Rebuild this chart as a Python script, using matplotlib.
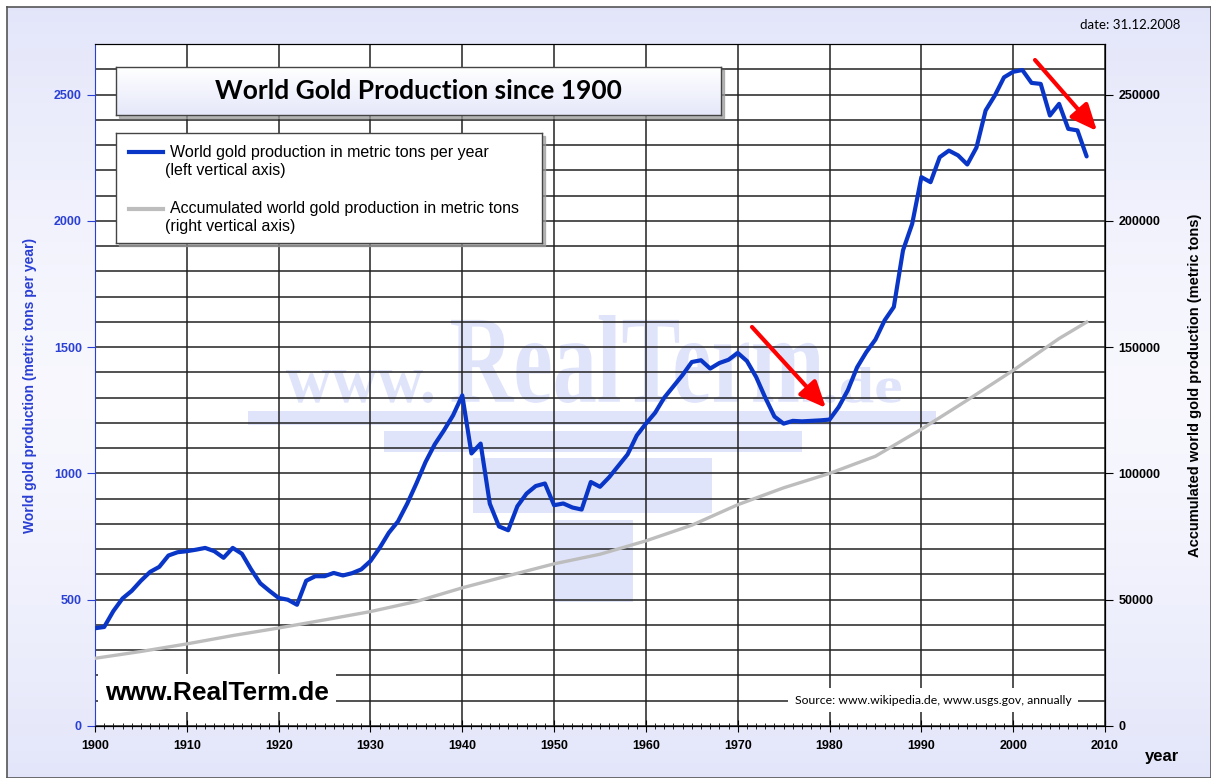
import numpy as np
import matplotlib
matplotlib.use("Agg")
import matplotlib.pyplot as plt
from matplotlib.ticker import MultipleLocator
from matplotlib.textpath import TextPath
from matplotlib.font_manager import FontProperties
from matplotlib.patches import PathPatch, Rectangle
from matplotlib.transforms import Affine2D
import matplotlib.patheffects as pe

# data
years = np.arange(1900, 2009)
production = [
    387, 392, 455, 505, 535, 575, 610, 630, 675, 688,            # 1900s
    692, 698, 705, 692, 666, 705, 682, 620, 565, 535,            # 1910s
    507, 500, 480, 575, 593, 593, 606, 596, 605, 620,            # 1920s
    653, 705, 765, 810, 880, 960, 1045, 1115, 1170, 1230,        # 1930s
    1309, 1079, 1118, 880, 790, 775, 870, 920, 950, 960,         # 1940s
    874, 881, 865, 857, 966, 947, 985, 1030, 1075, 1150,         # 1950s
    1197, 1240, 1300, 1345, 1390, 1441, 1448, 1415, 1437, 1450,  # 1960s
    1477, 1445, 1382, 1300, 1225, 1197, 1208, 1206, 1208, 1210,  # 1970s
    1213, 1263, 1330, 1420, 1480, 1530, 1606, 1659, 1883, 1988,  # 1980s
    2173, 2153, 2252, 2278, 2259, 2223, 2290, 2437, 2496, 2568,  # 1990s
    2590, 2597, 2546, 2542, 2417, 2463, 2364, 2358, 2255,        # 2000s
]
acc_years = [1900, 1905, 1910, 1915, 1920, 1925, 1930, 1935, 1940, 1945, 1950, 1955,
             1960, 1965, 1970, 1975, 1980, 1985, 1990, 1995, 2000, 2005, 2008]
acc_tons = [26800, 29500, 32500, 35800, 38800, 42000, 45300, 49300, 54700, 59500, 64200, 68000,
            73300, 79500, 87600, 94300, 100000, 106800, 117500, 129000, 140800, 153400, 159900]

W, H = 1211, 778
BLUE = '#0a36c8'
LBLUE = '#2a3fd4'
WM = '#e0e4fa'


def fx(x):
    return x / W


def fy(y):
    return 1 - y / H


# pixel -> data (left axis)
def yr(x):
    return 1900 + (x - 95) * 110 / 1010


def val(y):
    return (726 - y) * 2700 / 682


fig = plt.figure(figsize=(W / 100, H / 100), dpi=100)
fig.patch.set_facecolor('white')

# background gradient with border
bg = fig.add_axes([fx(7), 0, 1 - fx(7), 1 - 7 / H], zorder=-10)
g = np.abs(np.linspace(-1, 1, 200)) ** 1.5
c_top = np.array([0.89, 0.90, 0.98])
c_mid = np.array([0.97, 0.97, 0.995])
grad = c_mid[None, :] * (1 - g[:, None]) + c_top[None, :] * g[:, None]
bg.imshow(grad[:, None, :], aspect='auto', extent=[0, 1, 0, 1])
bg.set_xticks([])
bg.set_yticks([])
for s in bg.spines.values():
    s.set_color('#555555')
    s.set_linewidth(1.2)

ax = fig.add_axes([fx(95), 1 - 726 / H, 1010 / W, 682 / H])
ax.set_facecolor('white')
ax.set_xlim(1900, 2010)
ax.set_ylim(0, 2700)
ax.set_axisbelow(True)

ax.xaxis.set_major_locator(MultipleLocator(10))
ax.xaxis.set_minor_locator(MultipleLocator(1))
ax.yaxis.set_major_locator(MultipleLocator(500))
ax.yaxis.set_minor_locator(MultipleLocator(100))
ax.grid(axis='x', which='major', color='#222222', lw=1.1)
ax.grid(axis='y', which='both', color='#222222', lw=1.1)
ax.tick_params(axis='y', which='minor', length=0)
ax.tick_params(axis='y', which='major', length=6, color=LBLUE, labelcolor=LBLUE,
               labelsize=9, direction='out')
ax.tick_params(axis='x', which='major', length=8, direction='inout', labelsize=9, pad=6)
ax.tick_params(axis='x', which='minor', length=5, direction='inout')
for lab in ax.get_xticklabels() + ax.get_yticklabels():
    lab.set_fontweight('bold')
    lab.set_family('Liberation Sans')
ax.spines['left'].set_color(LBLUE)
ax.spines['top'].set_color('#222222')

ax.set_ylabel('World gold production (metric tons per year)', color=LBLUE,
              fontsize=10, fontweight='bold', family='Liberation Sans', labelpad=12)

# watermark
for (x0, y0, x1, y1) in [(248, 411, 936, 425), (384, 431, 802, 452),
                         (473, 458, 712, 513), (555, 520, 633, 602)]:
    ax.add_patch(Rectangle((yr(x0), val(y1)), yr(x1) - yr(x0), val(y0) - val(y1),
                           color=WM, lw=0, zorder=0.2))
wm_prop = FontProperties(family='Liberation Serif', weight='bold')
for s, (x0, y0, x1, y1) in [('www.', (286, 370, 433, 403)),
                            ('RealTerm', (451, 315, 823, 403)),
                            ('.de', (825, 367, 901, 403))]:
    path = TextPath((0, 0), s, size=1, prop=wm_prop)
    ext = path.get_extents()
    bx0, bx1, by0, by1 = yr(x0), yr(x1), val(y1), val(y0)
    tr = (Affine2D().translate(-ext.x0, -ext.y0)
          .scale((bx1 - bx0) / ext.width, (by1 - by0) / ext.height)
          .translate(bx0, by0))
    ax.add_patch(PathPatch(tr.transform_path(path), color=WM, lw=0, zorder=0.2))

ax.plot(years, production, color=BLUE, lw=3, zorder=4, solid_capstyle='round',
        solid_joinstyle='round')

# red arrows
for (sx, sy, ex, ey) in [(752, 327, 826, 408), (1035, 60, 1097, 131)]:
    ax.annotate('', xy=(yr(ex), val(ey)), xytext=(yr(sx), val(sy)),
                arrowprops=dict(arrowstyle='-|>,head_length=0.8,head_width=0.35',
                                color='#ff0000', lw=3, mutation_scale=20, shrinkA=0, shrinkB=0),
                zorder=6)

ax2 = ax.twinx()
ax2.set_ylim(0, 270000)
ax2.yaxis.set_major_locator(MultipleLocator(50000))
ax2.tick_params(axis='y', length=6, labelsize=9, direction='out')
for lab in ax2.get_yticklabels():
    lab.set_fontweight('bold')
    lab.set_family('Liberation Sans')
ax2.spines['left'].set_visible(False)
ax2.plot(acc_years, acc_tons, color='#bdbdbd', lw=2.4, zorder=3, solid_joinstyle='round')
ax2.set_ylabel('Accumulated world gold production (metric tons)', fontsize=10.5,
               fontweight='bold', family='Liberation Sans', labelpad=20)

# text boxes on the plot
fig.text(fx(105), fy(693), 'www.RealTerm.de', fontsize=19, fontweight='bold',
         family='Liberation Sans', va='center', ha='left', zorder=10,
         bbox=dict(facecolor='white', edgecolor='none', pad=5))
fig.text(fx(933), fy(700), 'Source: www.wikipedia.de, www.usgs.gov, annually',
         fontsize=8.8, family='Lato', va='center', ha='center', zorder=10,
         bbox=dict(facecolor='white', edgecolor='none', pad=5))
fig.text(fx(1180), fy(25), 'date: 31.12.2008', fontsize=9.5, family='Lato',
         va='center', ha='right')
fig.text(fx(1145), fy(757), 'year', fontsize=12, fontweight='bold',
         family='Liberation Sans', va='center', ha='left')

# title box
tb = fig.add_axes([fx(116), fy(115), 605 / W, 48 / H], zorder=20)
tg = np.linspace(0, 1, 50)
tcol = np.array([1.0, 1.0, 1.0])[None, :] * (1 - tg[:, None]) + np.array([0.9, 0.91, 0.98])[None, :] * tg[:, None]
tb.imshow(tcol[:, None, :], aspect='auto', extent=[0, 1, 0, 1])
tb.set_xticks([])
tb.set_yticks([])
for s in tb.spines.values():
    s.set_color('#444444')
    s.set_linewidth(1)
tb.text(0.5, 0.5, 'World Gold Production since 1900', fontsize=19, fontweight='bold',
        family='Lato', ha='center', va='center', transform=tb.transAxes)
fig.patches.append(Rectangle((fx(119), fy(118)), 605 / W, 48 / H, transform=fig.transFigure,
                             color='#9a9a9a', alpha=0.7, zorder=19))

# legend box
lb = fig.add_axes([fx(116), fy(243), 426 / W, 110 / H], zorder=20)
lb.set_xlim(116, 542)
lb.set_ylim(243, 133)
lb.set_xticks([])
lb.set_yticks([])
lb.set_facecolor('white')
for s in lb.spines.values():
    s.set_color('#444444')
    s.set_linewidth(1)
fig.patches.append(Rectangle((fx(119), fy(246)), 426 / W, 110 / H, transform=fig.transFigure,
                             color='#9a9a9a', alpha=0.7, zorder=19))
lb.plot([129, 163], [152, 152], color=BLUE, lw=3)
lb.plot([129, 163], [209, 209], color='#bdbdbd', lw=3)
for (tx, ty, t) in [(170, 152, 'World gold production in metric tons per year'),
                    (165, 170, '(left vertical axis)'),
                    (170, 208, 'Accumulated world gold production in metric tons'),
                    (165, 226, '(right vertical axis)')]:
    lb.text(tx, ty, t, fontsize=11.5, family='Liberation Sans', va='center', ha='left')

fig.savefig('out.png', dpi=100)
